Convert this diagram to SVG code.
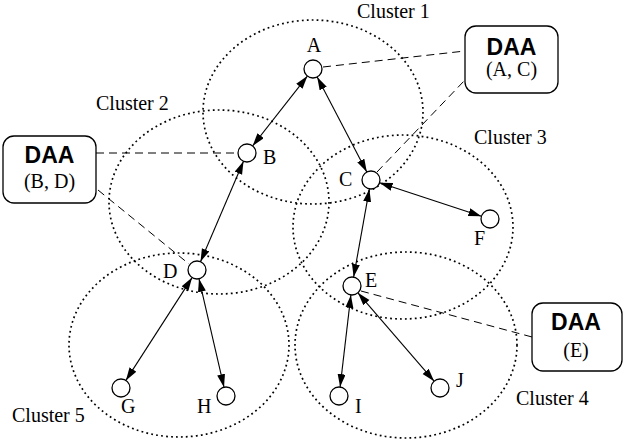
<svg xmlns="http://www.w3.org/2000/svg" width="624" height="440" viewBox="0 0 624 440">
  <style>
    .cluster { fill: none; stroke: #000; stroke-width: 1.7; stroke-dasharray: 1.8 3.2; }
    .node { fill: #fff; stroke: #000; stroke-width: 1.3; }
    .link { stroke: #000; stroke-width: 1.1; fill: none; marker-start: url(#head); marker-end: url(#head); }
    .assoc { stroke: #000; stroke-width: 1; fill: none; stroke-dasharray: 8 5; }
    .box { fill: #fff; stroke: #000; stroke-width: 1.3; }
    .lbl { font-family: "Liberation Serif", "Times New Roman", serif; font-size: 20px; fill: #000; }
    .daa { font-family: "Liberation Sans", Arial, sans-serif; font-size: 23px; font-weight: bold; fill: #000; text-anchor: middle; }
    .sub { font-family: "Liberation Serif", "Times New Roman", serif; font-size: 20px; fill: #000; text-anchor: middle; }
  </style>
  <defs>
    <marker id="head" markerUnits="userSpaceOnUse" markerWidth="14" markerHeight="9" refX="13" refY="4" orient="auto-start-reverse">
      <path d="M0,0 L13,4 L0,8 z" fill="#000"/>
    </marker>
  </defs>

  <!-- cluster boundaries -->
  <g id="clusters">
    <ellipse class="cluster" cx="313" cy="112" rx="110" ry="92"/>
    <ellipse class="cluster" cx="219" cy="202" rx="110" ry="92"/>
    <ellipse class="cluster" cx="403" cy="227" rx="110" ry="92"/>
    <ellipse class="cluster" cx="406" cy="345" rx="111" ry="93"/>
    <ellipse class="cluster" cx="179" cy="345" rx="110" ry="92"/>
    <text class="lbl" x="357" y="18">Cluster 1</text>
    <text class="lbl" x="96" y="110">Cluster 2</text>
    <text class="lbl" x="474" y="144">Cluster 3</text>
    <text class="lbl" x="516" y="405">Cluster 4</text>
    <text class="lbl" x="12" y="422">Cluster 5</text>
  </g>

  <!-- connectors -->
  <g id="connectors">
    <line class="assoc" x1="323" y1="67" x2="465" y2="51"/>
    <line class="assoc" x1="377" y1="172" x2="465" y2="80"/>
    <line class="assoc" x1="96" y1="153" x2="238" y2="153"/>
    <line class="assoc" x1="98" y1="190" x2="189" y2="264"/>
    <line class="assoc" x1="361" y1="291" x2="532" y2="337"/>

    <line class="link" x1="307.4" y1="76.1" x2="252.6" y2="145.9"/>
    <line class="link" x1="317.2" y1="77.0" x2="366.8" y2="172.0"/>
    <line class="link" x1="243.5" y1="161.3" x2="200.5" y2="261.7"/>
    <line class="link" x1="379.6" y1="182.8" x2="481.4" y2="216.2"/>
    <line class="link" x1="369.4" y1="188.9" x2="353.6" y2="277.1"/>
    <line class="link" x1="192.1" y1="277.6" x2="125.9" y2="380.4"/>
    <line class="link" x1="199.0" y1="278.8" x2="224.0" y2="387.2"/>
    <line class="link" x1="350.9" y1="294.9" x2="340.1" y2="387.1"/>
    <line class="link" x1="357.9" y1="292.8" x2="434.1" y2="381.2"/>
  </g>

  <!-- nodes -->
  <g id="node-A"><circle class="node" cx="313" cy="69" r="9"/><text class="lbl" x="314" y="52" text-anchor="middle">A</text></g>
  <g id="node-B"><circle class="node" cx="247" cy="153" r="9"/><text class="lbl" x="263" y="164">B</text></g>
  <g id="node-C"><circle class="node" cx="371" cy="180" r="9"/><text class="lbl" x="339" y="186">C</text></g>
  <g id="node-D"><circle class="node" cx="197" cy="270" r="9"/><text class="lbl" x="163" y="278">D</text></g>
  <g id="node-E"><circle class="node" cx="352" cy="286" r="9"/><text class="lbl" x="365" y="287">E</text></g>
  <g id="node-F"><circle class="node" cx="490" cy="219" r="9"/><text class="lbl" x="474" y="245">F</text></g>
  <g id="node-G"><circle class="node" cx="121" cy="388" r="9"/><text class="lbl" x="121" y="413">G</text></g>
  <g id="node-H"><circle class="node" cx="226" cy="396" r="9"/><text class="lbl" x="197" y="413">H</text></g>
  <g id="node-I"><circle class="node" cx="339" cy="396" r="9"/><text class="lbl" x="355" y="413">I</text></g>
  <g id="node-J"><circle class="node" cx="440" cy="388" r="9"/><text class="lbl" x="456" y="387">J</text></g>

  <!-- DAA boxes -->
  <g id="daa-AC">
    <rect class="box" x="465" y="26" width="93" height="67" rx="11"/>
    <text class="daa" x="511.5" y="55">DAA</text>
    <text class="sub" x="511.5" y="76">(A, C)</text>
  </g>
  <g id="daa-BD">
    <rect class="box" x="3" y="136" width="93" height="67" rx="11"/>
    <text class="daa" x="49.5" y="163">DAA</text>
    <text class="sub" x="49.5" y="188">(B, D)</text>
  </g>
  <g id="daa-E">
    <rect class="box" x="532" y="303" width="90" height="68" rx="11"/>
    <text class="daa" x="576" y="330">DAA</text>
    <text class="sub" x="576" y="357">(E)</text>
  </g>
</svg>
